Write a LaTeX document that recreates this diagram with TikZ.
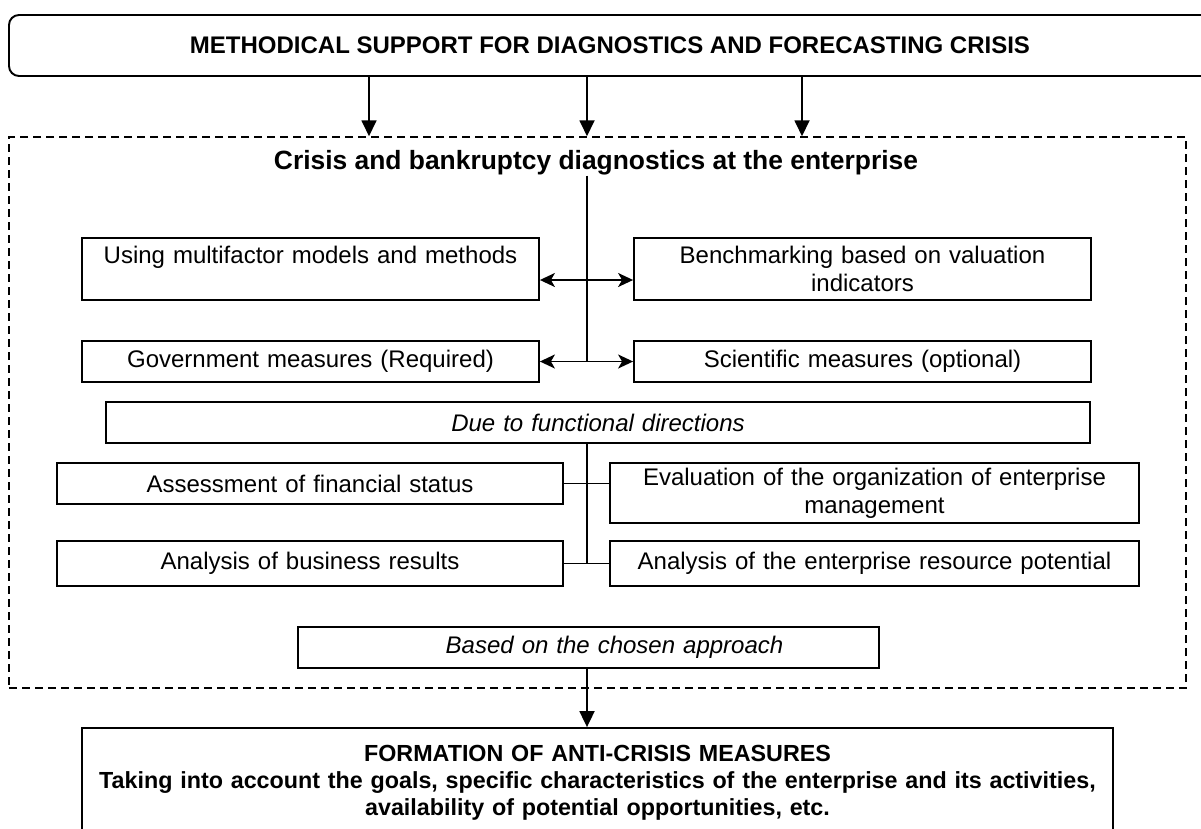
\documentclass[tikz,border=0pt]{standalone}
\usepackage{fontspec}
\setmainfont{Liberation Sans}
\usetikzlibrary{arrows.meta}
\begin{document}
\begin{tikzpicture}[x=1pt,y=1pt,
  txt/.style={font=\fontsize{24}{27.6}\selectfont},
  box/.style={draw, line width=1.8pt, rectangle, inner sep=0pt, align=center, txt},
  conn/.style={line width=1.8pt},
  tri/.style={line width=1.8pt, -{Triangle[length=16pt,width=15pt]}},
  dbl/.style={line width=1.8pt, {Stealth[length=15pt,width=14pt,inset=4pt]}-{Stealth[length=15pt,width=14pt,inset=4pt]}}]
\useasboundingbox (0,0) rectangle (1201,-828);
\clip (0,0) rectangle (1201,-828);

% top box
\node[draw, rounded corners=10pt, line width=1.9pt, minimum width=1202pt, minimum height=61pt, inner sep=0pt,
  font=\bfseries\fontsize{24}{28}\selectfont] (top) at (610,-45.5)
  {METHODICAL SUPPORT FOR DIAGNOSTICS AND FORECASTING CRISIS};

% dashed frame
\node[draw, dash pattern=on 8pt off 5pt, line width=1.5pt, minimum width=1177pt, minimum height=551pt, inner sep=0pt] (diag) at (597.5,-412.5) {};

\node[inner sep=0pt, font=\bfseries\fontsize{26.4}{30}\selectfont] (head) at (596,-163)
  {Crisis and bankruptcy diagnostics at the enterprise};

% arrows from top
\coordinate (a) at (369,-100);
\coordinate (b) at (587,-100);
\coordinate (c) at (802,-100);
\foreach \n in {a,b,c} \draw[tri] (top.south -| \n) -- (diag.north -| \n);

% row 1 and 2
\node[box, minimum width=457pt, minimum height=62pt, text width=445pt] (ml) at (310.5,-269)
  {Using multifactor models and methods\\ ~};
\node[box, minimum width=457pt, minimum height=62pt, text width=445pt] (bm) at (862.5,-269)
  {Benchmarking based on valuation\\ indicators};
\node[box, minimum width=457pt, minimum height=41pt, text width=445pt] (gov) at (310.5,-361.5)
  {Government measures (Required)};
\node[box, minimum width=457pt, minimum height=41pt, text width=445pt] (sci) at (862.5,-361.5)
  {Scientific measures (optional)};

\coordinate (j1) at (587,-280);
\coordinate (j2) at (587,-361.5);
\draw[conn] (head.south -| j1) -- (j2);
\draw[dbl] (ml.east |- j1) -- (bm.west |- j1);
\draw[dbl] (gov.east |- j2) -- (sci.west |- j2);

% functional directions
\node[box, minimum width=984pt, minimum height=41pt, text width=970pt, font=\itshape\fontsize{24}{27.6}\selectfont] (due) at (598,-422.5)
  {Due to functional directions};

\node[box, minimum width=506pt, minimum height=41pt, text width=494pt] (afs) at (310,-483.5)
  {Assessment of financial status};
\node[box, minimum width=529pt, minimum height=60pt, text width=517pt] (eom) at (874.5,-493)
  {Evaluation of the organization of enterprise\\ management};
\node[box, minimum width=506pt, minimum height=45pt, text width=494pt] (abr) at (310,-563.5)
  {Analysis of business results};
\node[box, minimum width=529pt, minimum height=45pt, text width=517pt] (aerp) at (874.5,-563.5)
  {Analysis of the enterprise resource potential};

\coordinate (k1) at (587,-483.5);
\coordinate (k2) at (587,-563.5);
\draw[conn] (due.south -| k1) -- (k2);
\draw[conn] (afs.east |- k1) -- (eom.west |- k1);
\draw[conn] (abr.east) -- (aerp.west);

% based on
\node[box, minimum width=581pt, minimum height=41pt, text width=520pt, font=\itshape\fontsize{24}{27.6}\selectfont] (based) at (588.5,-647.5)
  {\hspace*{52pt}Based on the chosen approach};

% bottom box
\node[box, minimum width=1031pt, minimum height=110pt, text width=1020pt, font=\bfseries\fontsize{23.3}{27}\selectfont] (form) at (597.5,-783)
  {FORMATION OF ANTI-CRISIS MEASURES\\
   Taking into account the goals, specific characteristics of the enterprise and its activities,\\
   availability of potential opportunities, etc.};

\draw[tri] (based.south -| k1) -- (form.north -| k1);
\end{tikzpicture}
\end{document}
